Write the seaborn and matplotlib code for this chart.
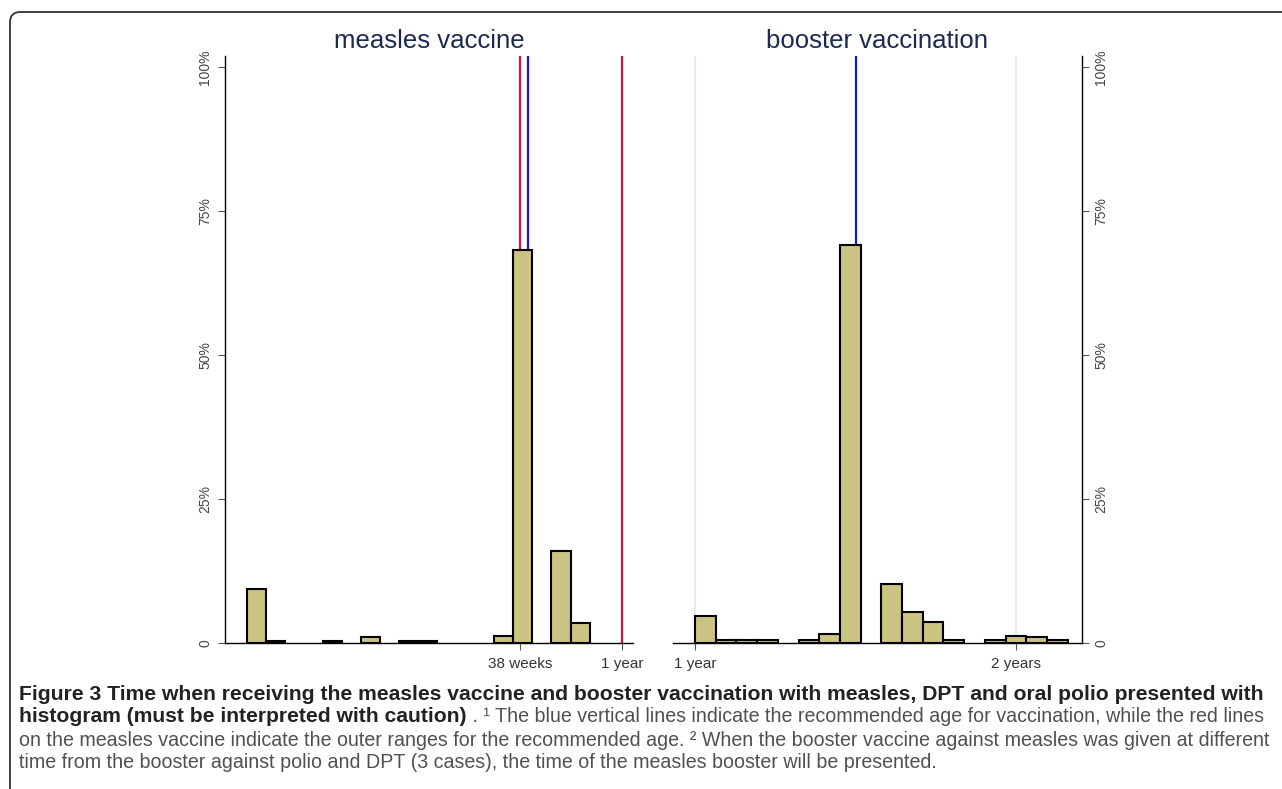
import numpy as np
import pandas as pd
import matplotlib
matplotlib.use("Agg")
import matplotlib.pyplot as plt
from matplotlib.patches import FancyBboxPatch
import seaborn as sns

# ---------------- data (x in months, y in percent) ----------------
measles_bin_left = [0.0, 0.609, 2.436, 3.654, 4.872, 5.481, 7.917, 8.526, 9.744, 10.353]
measles_pct = [9.4, 0.35, 0.3, 1.0, 0.3, 0.3, 1.3, 68.3, 16.0, 3.4]
measles_bin_width = 0.609
measles_ticks = [38 * 7 / 30.44, 12.0]
measles_ticklabels = ["38 weeks", "1 year"]
measles_red_lines = [38 * 7 / 30.44, 12.0]
measles_blue_lines = [9.0]

booster_bin_left = [12.0, 12.774, 13.548, 14.322, 15.87, 16.644, 17.418, 18.966,
                    19.74, 20.514, 21.288, 22.836, 23.61, 24.384, 25.158]
booster_pct = [4.7, 0.5, 0.5, 0.5, 0.5, 1.5, 69.1, 10.2, 5.4, 3.6, 0.5, 0.5, 1.2, 1.0, 0.6]
booster_bin_width = 0.774
booster_ticks = [12.0, 24.0]
booster_ticklabels = ["1 year", "2 years"]
booster_blue_lines = [18.0]

y_ticks = [0, 25, 50, 75, 100]
y_ticklabels = ["0", "25%", "50%", "75%", "100%"]

titles = ["measles vaccine", "booster vaccination"]

caption_line1 = ("Figure 3 Time when receiving the measles vaccine and booster vaccination "
                 "with measles, DPT and oral polio presented with")
caption_line2_bold = "histogram (must be interpreted with caution)"
caption_line2_reg = (" . \u00b9 The blue vertical lines indicate the recommended age for "
                     "vaccination, while the red lines")
caption_line3 = ("on the measles vaccine indicate the outer ranges for the recommended age. "
                 "\u00b2 When the booster vaccine against measles was given at different")
caption_line4 = ("time from the booster against polio and DPT (3 cases), the time of the "
                 "measles booster will be presented.")

# ---------------- style ----------------
sns.set_theme(style="white")
plt.rcParams["font.family"] = ["Liberation Sans", "DejaVu Sans"]

BAR = "#cbc382"
RED = "#d0103c"
BLUE = "#1414e6"
GRID = "#e4eef2"
TICKC = "#333333"

W, H = 1282, 789
fig = plt.figure(figsize=(W / 100, H / 100), dpi=100)
fig.patch.set_facecolor("white")

def px_axes(x0, x1, ytop, ybot):
    return [x0 / W, 1 - ybot / H, (x1 - x0) / W, (ybot - ytop) / H]

axL = fig.add_axes(px_axes(225, 633, 56, 643))
axR = fig.add_axes(px_axes(673, 1082, 56, 643))

def draw_hist(ax, lefts, pct, width):
    lefts = np.asarray(lefts, dtype=float)
    df = pd.DataFrame({"x": lefts + width / 2, "w": np.asarray(pct, dtype=float)})
    lo = float(lefts.min())
    hi = float(lefts.max() + width)
    sns.histplot(data=df, x="x", weights="w", binwidth=width, binrange=(lo, hi), ax=ax,
                 color=BAR, edgecolor="black", linewidth=1.5, alpha=1, zorder=3)
    for p in list(ax.patches):
        if p.get_height() == 0:
            p.remove()

draw_hist(axL, measles_bin_left, measles_pct, measles_bin_width)
draw_hist(axR, booster_bin_left, booster_pct, booster_bin_width)

# vertical reference lines
for xv in measles_red_lines:
    axL.axvline(xv, color=RED, lw=1.6, zorder=1)
for xv in measles_blue_lines:
    axL.axvline(xv, color=BLUE, lw=1.6, zorder=1)
for xv in booster_blue_lines:
    axR.axvline(xv, color=BLUE, lw=1.6, zorder=1)
for xv in booster_ticks:
    axR.axvline(xv, color=GRID, lw=1.6, zorder=0.5)

ylim_top = (643 - 56) / 5.76
mL = 31.29  # px per month, left
axL.set_xlim(measles_ticks[0] - (520 - 225) / mL, measles_ticks[0] + (633 - 520) / mL)
mR = 26.75
axR.set_xlim(12 - (695 - 673) / mR, 12 + (1082 - 695) / mR)

for ax in (axL, axR):
    ax.set_ylim(0, ylim_top)
    ax.set_facecolor("white")
    ax.set_xlabel("")
    ax.set_ylabel("")
    ax.grid(False)
    for s in ax.spines.values():
        s.set_visible(False)
    ax.spines["bottom"].set_visible(True)
    ax.spines["bottom"].set_color("black")
    ax.spines["bottom"].set_linewidth(1.0)
    ax.set_yticks(y_ticks)
    ax.set_yticklabels(y_ticklabels, rotation=90, va="center", fontsize=10, color="#444444")
    ax.tick_params(axis="y", length=5, width=0.8, color="#555555", pad=4)
    ax.tick_params(axis="x", length=5, width=0.8, color="#555555", pad=5,
                   labelsize=11, labelcolor=TICKC)

axL.spines["left"].set_visible(True)
axL.spines["left"].set_color("black")
axL.spines["left"].set_linewidth(1.0)
axL.yaxis.set_ticks_position("left")
axL.tick_params(axis="y", left=True, right=False)
axL.set_xticks(measles_ticks)
axL.set_xticklabels(measles_ticklabels)
axL.tick_params(axis="x", bottom=True)

axR.spines["right"].set_visible(True)
axR.spines["right"].set_color("black")
axR.spines["right"].set_linewidth(1.0)
axR.yaxis.set_ticks_position("right")
axR.tick_params(axis="y", left=False, right=True, labelleft=False, labelright=True)
axR.set_xticks(booster_ticks)
axR.set_xticklabels(booster_ticklabels)
axR.tick_params(axis="x", bottom=True)

axL.set_title(titles[0], fontsize=18.5, color="#1c2a52", pad=6)
axR.set_title(titles[1], fontsize=18.5, color="#1c2a52", pad=6)

# frame around figure
frame = FancyBboxPatch((10 / W, -0.05), 1.1, (1 - 12 / H) + 0.05,
                       boxstyle="round,pad=0,rounding_size=0.008",
                       transform=fig.transFigure, fill=False, edgecolor="#333333",
                       linewidth=1.3, mutation_aspect=W / H)
fig.patches.append(frame)

# ---------------- caption ----------------
cap_fam = ["Liberation Sans", "DejaVu Sans"]
fig.canvas.draw()
renderer = fig.canvas.get_renderer()

def fit_text(x, y, s, target_w, weight="normal", size=12, color="#222222"):
    t = fig.text(x / W, 1 - y / H, s, fontsize=size, fontweight=weight,
                 family=cap_fam, color=color, va="center", ha="left")
    for _ in range(3):
        w = t.get_window_extent(renderer).width
        t.set_fontsize(t.get_fontsize() * target_w / w)
    return t

t1 = fit_text(19, 694, caption_line1, 1250, weight="bold")
bold_size = t1.get_fontsize()
t2b = fig.text(19 / W, 1 - 717 / H, caption_line2_bold, fontsize=bold_size, fontweight="bold",
               family=cap_fam, color="#222222", va="center", ha="left")
t3 = fit_text(19, 740, caption_line3, 1252, color="#505050")
reg_size = t3.get_fontsize()
bw = t2b.get_window_extent(renderer).width
fig.text((19 + bw) / W, 1 - 717 / H, caption_line2_reg, fontsize=reg_size,
         family=cap_fam, color="#505050", va="center", ha="left")
fig.text(19 / W, 1 - 763 / H, caption_line4, fontsize=reg_size,
         family=cap_fam, color="#505050", va="center", ha="left")

fig.savefig("out.png", dpi=100, facecolor="white")
